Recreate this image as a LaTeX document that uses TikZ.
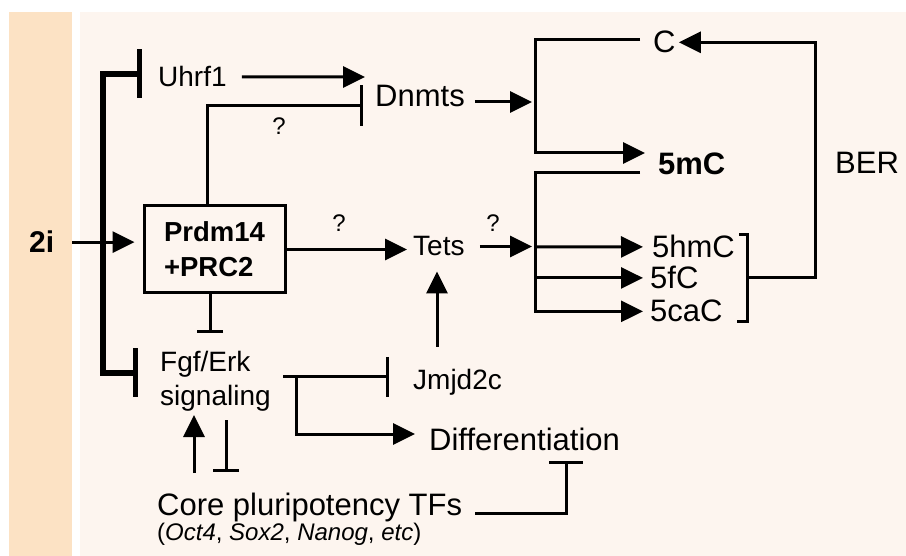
\documentclass[tikz,border=0pt]{standalone}
\usepackage{fontspec}
\setmainfont{Liberation Sans}
\usetikzlibrary{arrows.meta}
\definecolor{peach}{RGB}{252,226,196}
\definecolor{shell}{RGB}{253,245,239}
\tikzset{
  txt/.style={anchor=base west,inner sep=0pt,font=\fontsize{28}{34}\selectfont},
  big/.style={anchor=base west,inner sep=0pt,font=\fontsize{31}{36}\selectfont},
  ask/.style={anchor=base,inner sep=0pt,font=\fontsize{24}{28}\selectfont},
  link/.style={line width=3pt},
  act/.style={link,-{Triangle[length=22pt,width=21pt]}},
  blk/.style={link,-{Bar[width=#1]}},
  hub/.style={line width=5.5pt,{Bar[width=49pt]}-{Bar[width=49pt]}}
}
\begin{document}
\begin{tikzpicture}[x=1pt,y=-1pt]
    \useasboundingbox (0,0) rectangle (906,556);
    \fill[peach] (9,12) rectangle (72,556);
    \fill[shell] (80,12) rectangle (906,556);

    \node[big,font=\fontsize{30}{36}\selectfont\bfseries] (twoi) at (29,253) {2i};
    \node[txt] (uhrf) at (158,87) {Uhrf1};
    \node[big] (dnmts) at (375,107) {Dnmts};
    \node[draw,line width=3pt,minimum width=141pt,minimum height=87pt,align=left,
          font=\fontsize{27.5}{35}\selectfont\bfseries] (prdm) at (214.5,249.5) {Prdm14\\+PRC2};
    \node[txt] (tets) at (413,256) {Tets};
    \node[big] (c) at (653,53) {C};
    \node[big,font=\fontsize{31}{36}\selectfont\bfseries] (mc) at (658,175) {5mC};
    \node[big] (hmc) at (652,258) {5hmC};
    \node[big] (fc) at (650,289) {5fC};
    \node[big] (cac) at (650,322) {5caC};
    \node[big] (ber) at (835,174) {BER};
    \node[txt,align=left] (fgf) at (160,406) {Fgf/Erk\\signaling};
    \node[txt] (jmj) at (413,390) {Jmjd2c};
    \node[big] (diff) at (429,450) {Differentiation};
    \node[big] (core) at (157,515) {Core pluripotency TFs};
    \node[txt,font=\fontsize{24}{28}\selectfont] (examples) at (157,540)
        {(\textit{Oct4}, \textit{Sox2}, \textit{Nanog}, \textit{etc})};
    \node[ask] (q1) at (279,135) {?};
    \node[ask] (q2) at (339,232) {?};
    \node[ask] (q3) at (493,232) {?};

    \coordinate (iuhrf) at (142,74);
    \coordinate (ifgf) at (138,373);
    \coordinate (dnin) at (365,77);
    \coordinate (dnbar) at (363,106);
    \coordinate (dnhub) at (535,102);
    \coordinate (j1t) at (640,40);
    \coordinate (j1b) at (645,153);
    \coordinate (j2t) at (640,173);
    \coordinate (tetshub) at (535,247);
    \coordinate (berb) at (747,278);
    \coordinate (fgfout) at (283,377);
    \coordinate (jmjbar) at (389,377);
    \coordinate (fork) at (296,377);
    \coordinate (diffin) at (415,434);
    \coordinate (jmjup) at (437,347);
    \coordinate (coreup) at (194,473);
    \coordinate (fgfin) at (194,415);
    \coordinate (fgfdown) at (226,420);
    \coordinate (corebar) at (226,472);
    \coordinate (coreout) at (475,513);
    \coordinate (diffbar) at (566,461);

    \draw[hub] (iuhrf) -- ++(-39,0) |- (ifgf);
    \draw[act,shorten <=18pt,shorten >=8pt] (twoi.east) -- (twoi.east -| prdm.west);
    \draw[act,shorten <=15pt] (uhrf.east) -- (dnin);
    \draw[blk=41pt] ([xshift=-7.5pt]prdm.north) |- (dnbar);
    \draw[act,shorten <=10pt,shorten >=3pt] (dnhub -| dnmts.east) -- (dnhub);
    \draw[act] (j1t) -- ++(-105,0) |- (j1b);
    \draw[act] (berb) -- ++(68,0) |- ([xshift=3pt]c.east);
    \draw[act,shorten >=6pt] (prdm.east) -- (prdm.east -| tets.west);
    \draw[act,shorten <=15pt,shorten >=3pt] (tets.east) -- (tets.east -| tetshub);
    \draw[act] (j2t) -- ++(-105,0) |- ([xshift=-7pt]cac.west);
    \draw[act] (tetshub) -- ([xshift=-9pt]hmc.west);
    \draw[act] (tetshub |- fc.west) -- ([xshift=-7pt]fc.west);
    \draw[link] (739,235) -| (747,322) -- ++(-10,0);
    \draw[blk=26pt] ([xshift=-4.5pt]prdm.south) -- ++(0,39);
    \draw[blk=40pt] (fgfout) -- (jmjbar);
    \draw[act] (fork) |- (diffin);
    \draw[act,shorten >=15pt] (jmjup) -- (jmjup |- tets.south);
    \draw[act] (coreup) -- (fgfin);
    \draw[blk=26pt] (fgfdown) -- (corebar);
    \draw[blk=34pt] (coreout) -| (diffbar);
\end{tikzpicture}
\end{document}
